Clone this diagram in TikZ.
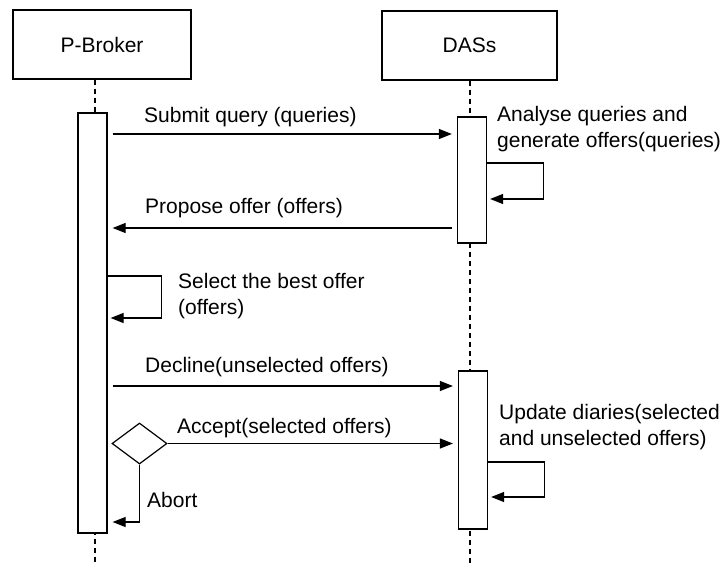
\documentclass[tikz,border=0pt]{standalone}
\usepackage{fontspec}
\setmainfont{Liberation Sans}
\usetikzlibrary{shapes.geometric, arrows.meta}
\tikzstyle{actor} = [rectangle,
draw=black, line width=1.2pt,
minimum height=69pt,
text centered]
\tikzstyle{actbar} = [rectangle,
draw=black, fill=white, line width=1.2pt,
minimum width=29pt,
inner sep=0pt]
\tikzstyle{choice} = [diamond,
draw=black, fill=white, line width=1.2pt,
minimum width=55pt,
minimum height=41pt,
inner sep=0pt]
\tikzstyle{lifeline} = [line width=1.2pt, dash pattern=on 5pt off 4pt]
\tikzstyle{msg} = [line width=1.2pt, -{Triangle[length=13pt,width=10pt]}, shorten <=5pt, shorten >=5pt]
\tikzstyle{selfmsg} = [line width=1.2pt, -{Triangle[length=13pt,width=10pt]}, shorten >=3pt]
\tikzstyle{msgtext} = [anchor=west, inner sep=0pt, align=left]

\begin{document}
\begin{tikzpicture}[x=1pt, y=-1pt, every node/.style={font=\fontsize{21}{26}\selectfont}]
\useasboundingbox (0,0) rectangle (727,563);

\node (broker) [actor, minimum width=178pt] at (102,44.5) {P-Broker};
\node (dass) [actor, minimum width=175pt] at (469.5,45.5) {DASs};

% lifelines
\coordinate (bend) at (95,563);
\coordinate (dend) at (470,563);
\draw [lifeline] (bend |- broker.south) -- (bend);
\draw [lifeline] (dend |- dass.south) -- (dend);

\node (bbar) [actbar, minimum height=420pt] at (92.5,323) {};
\node (dbar1) [actbar, minimum height=126pt] at (472,180) {};
\node (dbar2) [actbar, minimum height=158pt] at (473,450) {};

\node (alt) [choice] at (139.5,443.5) {};

\node (submitlbl) [msgtext] at (144,117) {Submit query (queries)};
\node (analyselbl) [msgtext] at (497,129) {Analyse queries and\\generate offers(queries)};
\node (proposelbl) [msgtext] at (145,208) {Propose offer (offers)};
\node (selectlbl) [msgtext] at (178,296) {Select the best offer\\(offers)};
\node (declinelbl) [msgtext] at (145,367) {Decline(unselected offers)};
\node (acceptlbl) [msgtext] at (177,428) {Accept(selected offers)};
\node (abortlbl) [msgtext] at (147,500) {Abort};
\node (updatelbl) [msgtext] at (499,427) {Update diaries(selected\\and unselected offers)};

\draw [msg] (bbar.east |- 0,134) -- (dbar1.west |- 0,134);
\draw [selfmsg] (dbar1.east |- 0,163) -- ++(56,0) -- ++(0,36) -- (dbar1.east |- 0,199);
\draw [msg] (dbar1.west |- 0,228) -- (bbar.east |- 0,228);

\draw [selfmsg] (bbar.east |- 0,276) -- ++(54,0) -- ++(0,42) -- (bbar.east |- 0,318);

\draw [msg] (bbar.east |- 0,386) -- (dbar2.west |- 0,386);
\draw [msg, shorten <=0pt] (alt.east) -- (dbar2.west |- alt.east);
\draw [msg, shorten <=0pt] (alt.south) |- (bbar.east |- 0,522);

\draw [selfmsg] (dbar2.east |- 0,462) -- ++(56,0) -- ++(0,35) -- (dbar2.east |- 0,497);

\end{tikzpicture}
\end{document}
